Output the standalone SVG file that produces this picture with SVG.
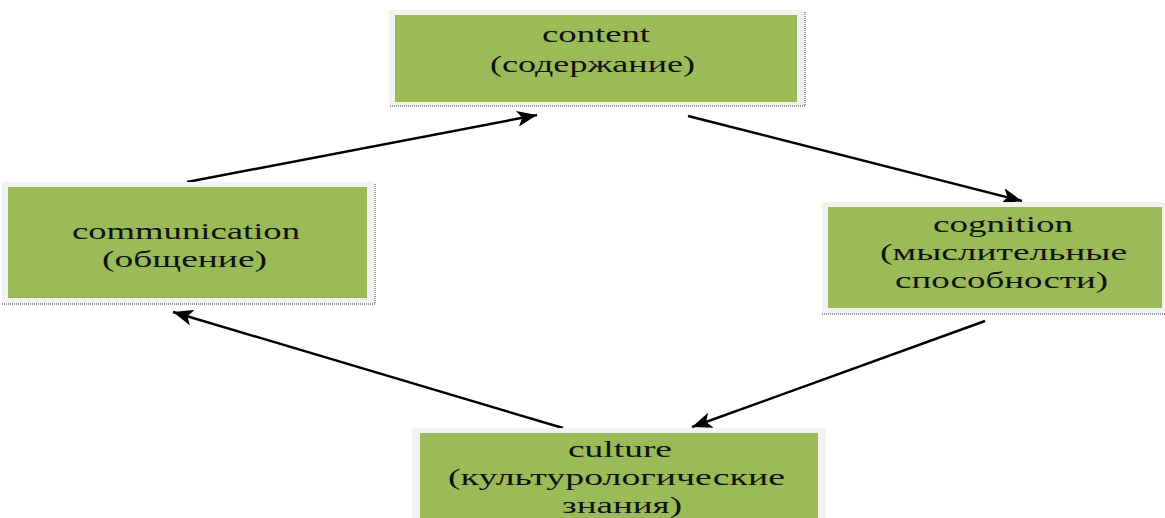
<svg xmlns="http://www.w3.org/2000/svg" width="1165" height="518" viewBox="0 0 1165 518">
<style>
.frame{fill:#f2f2f2}
.box{fill:#9bbb59}
.dot{stroke:#9a9a9a;stroke-width:2;stroke-dasharray:1 1;fill:none}
.t{font-family:"Liberation Serif","Times New Roman",serif;font-size:24px;fill:#111;text-anchor:start}
.conn{stroke:#000;stroke-width:2.4;fill:none;marker-end:url(#ah)}
</style>
<defs>
<marker id="ah" markerUnits="userSpaceOnUse" markerWidth="22" markerHeight="16" refX="20" refY="8" orient="auto">
<path d="M0,0 L20,8 L0,16 L5,8 Z" fill="#000"/>
</marker>
</defs>
<rect width="1165" height="518" fill="#fff"/>
<g id="connectors">
<line class="conn" x1="187" y1="182" x2="537" y2="115"/>
<line class="conn" x1="688" y1="116" x2="1022" y2="201"/>
<line class="conn" x1="985" y1="321" x2="692" y2="427"/>
<line class="conn" x1="563" y1="428" x2="173" y2="312"/>
</g>
<g id="content">
<rect class="frame" x="389" y="10" width="415" height="95"/>
<rect class="box" x="395" y="15" width="402" height="87"/>
<path class="dot" d="M805,12 V106 H389"/>
<text class="t" x="542" y="42" textLength="108" lengthAdjust="spacingAndGlyphs">content</text>
<text class="t" x="490" y="72" textLength="205" lengthAdjust="spacingAndGlyphs">(содержание)</text>
</g>
<g id="communication">
<rect class="frame" x="2" y="182" width="372" height="121"/>
<rect class="box" x="8" y="187" width="359" height="111"/>
<path class="dot" d="M375,184 V304 H2"/>
<text class="t" x="72" y="239" textLength="228" lengthAdjust="spacingAndGlyphs">communication</text>
<text class="t" x="102" y="267" textLength="165" lengthAdjust="spacingAndGlyphs">(общение)</text>
</g>
<g id="cognition">
<rect class="frame" x="822" y="202" width="343" height="111"/>
<rect class="box" x="828" y="207" width="334" height="101"/>
<path class="dot" d="M822,314 H1165"/>
<text class="t" x="933" y="232" textLength="140" lengthAdjust="spacingAndGlyphs">cognition</text>
<text class="t" x="880" y="260" textLength="247" lengthAdjust="spacingAndGlyphs">(мыслительные</text>
<text class="t" x="895" y="288" textLength="213" lengthAdjust="spacingAndGlyphs">способности)</text>
</g>
<g id="culture">
<rect class="frame" x="412" y="428" width="414" height="90"/>
<rect class="box" x="420" y="433" width="398" height="85"/>
<text class="t" x="568" y="457" textLength="104" lengthAdjust="spacingAndGlyphs">culture</text>
<text class="t" x="448" y="485" textLength="337" lengthAdjust="spacingAndGlyphs">(культурологические</text>
<text class="t" x="562" y="513" textLength="120" lengthAdjust="spacingAndGlyphs">знания)</text>
</g>
</svg>
